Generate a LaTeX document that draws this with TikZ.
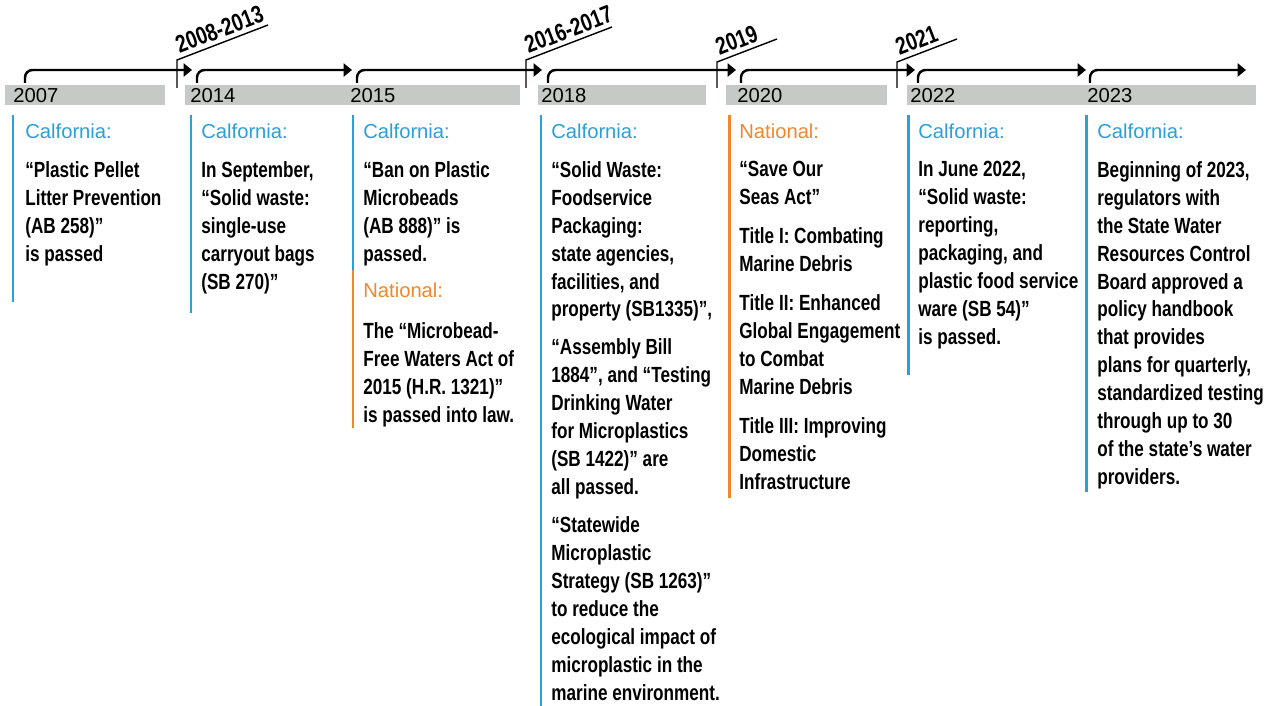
\documentclass[tikz,border=0pt]{standalone}
\usepackage{fontspec}
\setmainfont{Liberation Sans}
\newfontfamily\condfont[FakeStretch=0.78]{Liberation Sans}
\usepackage{tikz}
\usetikzlibrary{arrows.meta,positioning}
\definecolor{calblue}{RGB}{42,159,216}
\definecolor{natorange}{RGB}{240,135,45}
\definecolor{bargray}{RGB}{197,202,199}
\tikzset{
	every node/.style={
		inner sep=0pt
	},
	year/.style={
		anchor=west,
		font=\fontsize{11.5}{13}\selectfont
	},
	cal/.style={
		anchor=west,
		text=calblue,
		font=\fontsize{11.5}{13}\selectfont
	},
	nat/.style={
		anchor=west,
		text=natorange,
		font=\fontsize{11.5}{13}\selectfont
	},
	event/.style={
		anchor=north west,
		align=left,
		font=\condfont\bfseries\fontsize{12.5}{15.9}\selectfont
	},
	span/.style={
		anchor=south west,
		rotate=21,
		inner sep=2.5pt,
		font=\condfont\bfseries\fontsize{14}{16}\selectfont
	},
	period/.style={
		-{Triangle[length=4.8pt,width=7.5pt]},
		line width=1.4pt,
		rounded corners=0.15cm
	},
	tick/.style={
		line width=0.8pt
	},
	calline/.style={
		draw=calblue,
		line width=1.7pt
	},
	natline/.style={
		draw=natorange,
		line width=1.7pt
	}
}

\begin{document}
\begin{tikzpicture}[x=0.02cm, y=-0.02cm]
	\useasboundingbox (0,0) rectangle (1275,706);
	
	% year bars
	\fill[bargray] (5,85) rectangle (165,105);
	\fill[bargray] (185,85) rectangle (520,105);
	\fill[bargray] (538,85) rectangle (706,105);
	\fill[bargray] (726,85) rectangle (887,105);
	\fill[bargray] (907,85) rectangle (1256,105);
	
	\node[year] (y2007) at (13,96) {2007};
	\node[year] (y2014) at (190,96) {2014};
	\node[year] (y2015) at (350,96) {2015};
	\node[year] (y2018) at (541,96) {2018};
	\node[year] (y2020) at (737,96) {2020};
	\node[year] (y2022) at (910,96) {2022};
	\node[year] (y2023) at (1087,96) {2023};
	
	% periods
	\draw[period] (25,83) |- (192,70);
	\draw[period] (197,83) |- (352,70);
	\draw[period] (357,83) |- (542,70);
	\draw[period] (548,83) |- (736,70);
	\draw[period] (741,83) |- (915,70);
	\draw[period] (918,83) |- (1086,70);
	\draw[period] (1090,83) |- (1246,70);
	
	% skipped years
	\coordinate (t0813) at (177,60);
	\coordinate (t1617) at (526,60);
	\coordinate (t19) at (717,62);
	\coordinate (t21) at (897,62);
	\draw[tick] (177,88) -- (t0813) -- ++(91,-35);
	\draw[tick] (526,88) -- (t1617) -- ++(86,-33);
	\draw[tick] (717,88) -- (t19) -- ++(60,-23);
	\draw[tick] (897,88) -- (t21) -- ++(60,-23);
	\node[span] (s0813) at (t0813) {2008-2013};
	\node[span] (s1617) at (t1617) {2016-2017};
	\node[span] (s19) at (t19) {2019};
	\node[span] (s21) at (t21) {2021};
	
	% side lines
	\draw[calline] (13,115) -- (13,302);
	\draw[calline] (191,115) -- (191,313);
	\draw[calline] (353,115) -- (353,270);
	\draw[natline] (353,270) -- (353,428);
	\draw[calline] (541,115) -- (541,706);
	\draw[natline] (729,115) -- (729,498);
	\draw[calline] (908,115) -- (908,375);
	\draw[calline] (1086,115) -- (1086,492);
	
	% 2007
	\node[cal] (h2007) at (25,131) {Calfornia:};
	\node[event] (e2007) at (25,161) {“Plastic Pellet\\Litter Prevention\\(AB 258)”\\is passed};
	
	% 2014
	\node[cal] (h2014) at (201,131) {Calfornia:};
	\node[event] (e2014) at (201,161) {In September,\\“Solid waste:\\single-use\\carryout bags\\(SB 270)”};
	
	% 2015
	\node[cal] (h2015) at (363,131) {Calfornia:};
	\node[event] (e2015) at (363,161) {“Ban on Plastic\\Microbeads\\(AB 888)” is\\passed.};
	\node[nat] (n2015) at (363,290) {National:};
	\node[event] (f2015) at (363,322) {The “Microbead-\\Free Waters Act of\\2015 (H.R. 1321)”\\is passed into law.};
	
	% 2018
	\node[cal] (h2018) at (551,131) {Calfornia:};
	\node[event] (e2018) at (551,161) {“Solid Waste:\\Foodservice\\Packaging:\\state agencies,\\facilities, and\\property (SB1335)”,\\[0.2cm]“Assembly Bill\\1884”, and “Testing\\Drinking Water\\for Microplastics\\(SB 1422)” are\\all passed.\\[0.2cm]“Statewide\\Microplastic\\Strategy (SB 1263)”\\to reduce the\\ecological impact of\\microplastic in the\\marine environment.};
	
	% 2020
	\node[nat] (h2020) at (739,131) {National:};
	\node[event] (e2020) at (739,161) {“Save Our\\Seas Act”\\[0.22cm]Title I: Combating\\Marine Debris\\[0.22cm]Title II: Enhanced\\Global Engagement\\to Combat\\Marine Debris\\[0.22cm]Title III: Improving\\Domestic\\Infrastructure};
	
	% 2022
	\node[cal] (h2022) at (918,131) {Calfornia:};
	\node[event] (e2022) at (918,161) {In June 2022,\\“Solid waste:\\reporting,\\packaging, and\\plastic food service\\ware (SB 54)”\\is passed.};
	
	% 2023
	\node[cal] (h2023) at (1097,131) {Calfornia:};
	\node[event] (e2023) at (1097,161) {Beginning of 2023,\\regulators with\\the State Water\\Resources Control\\Board approved a\\policy handbook\\that provides\\plans for quarterly,\\standardized testing\\through up to 30\\of the state’s water\\providers.};
\end{tikzpicture}
\end{document}
